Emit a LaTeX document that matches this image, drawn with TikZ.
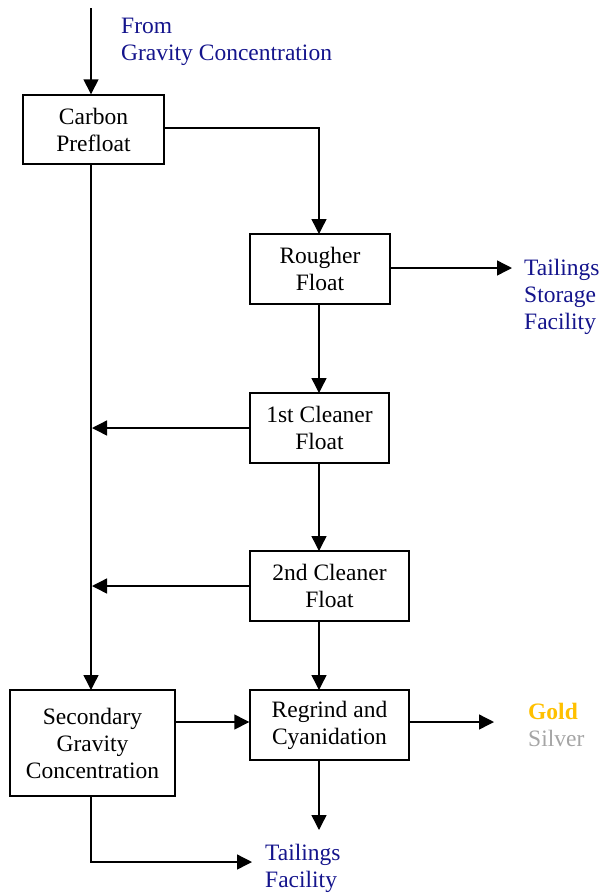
\documentclass[tikz,border=0pt]{standalone}
\usepackage{fontspec}
\setmainfont{Liberation Serif}
\usetikzlibrary{arrows.meta}
\definecolor{navyt}{RGB}{20,20,140}
\definecolor{goldt}{RGB}{255,192,0}
\definecolor{silvert}{RGB}{165,165,165}
\tikzset{
  box/.style={draw, line width=1.4pt, inner sep=0pt, align=center, font=\fontsize{23.5}{27}\selectfont},
  flow/.style={line width=1.4pt, -{Triangle[length=15pt,width=15pt]}},
  plain/.style={line width=1.4pt},
  lbl/.style={inner sep=0pt, anchor=north west, align=left, font=\fontsize{23.5}{27}\selectfont}
}
\begin{document}
\begin{tikzpicture}[x=1pt,y=-1pt]
\useasboundingbox (0,0) rectangle (607,895);
% boxes
\node[box, minimum width=141pt, minimum height=69pt] (carbon) at (93.5,129.5) {Carbon\\Prefloat};
\node[box, minimum width=140pt, minimum height=70pt] (rougher) at (320,269) {Rougher\\Float};
\node[box, minimum width=139pt, minimum height=70pt] (clean1) at (319.5,428) {1st Cleaner\\Float};
\node[box, minimum width=159pt, minimum height=70pt] (clean2) at (329.5,586) {2nd Cleaner\\Float};
\node[box, minimum width=165pt, minimum height=106pt] (sec) at (92.5,743) {Secondary\\Gravity\\Concentration};
\node[box, minimum width=159pt, minimum height=70pt] (regrind) at (329.5,725) {Regrind and\\Cyanidation};
% labels
\node[lbl, text=navyt] (from) at (121,18) {From\\Gravity Concentration};
\node[lbl, text=navyt] (tsf) at (524,259) {Tailings\\Storage\\Facility};
\node[lbl] (gs) at (528,703) {\textcolor{goldt}{\textbf{Gold}}\\\textcolor{silvert}{Silver}};
\node[lbl, text=navyt] (tf) at (265,844) {Tailings\\Facility};
% coordinates
\coordinate (top) at (91,8);
\coordinate (tsfin) at (512,268);
\coordinate (gsin) at (494,722);
\coordinate (tfin) at (252,862);
\coordinate (tfcorner) at (91,862);
\coordinate (regout) at (319,830);
% connectors
\draw[flow] (top) -- (top |- carbon.north);
\draw[flow] (carbon.east |- 0,128) -| (319,234);
\draw[flow] (91,164) -- (91,690);
\draw[flow] (rougher.east |- 0,268) -- (tsfin);
\draw[flow] (319,304) -- (319,393);
\draw[flow] (clean1.west) -- (92,428);
\draw[flow] (319,463) -- (319,551);
\draw[flow] (clean2.west) -- (92,586);
\draw[flow] (319,621) -- (319,690);
\draw[flow] (sec.east |- 0,722) -- (regrind.west |- 0,722);
\draw[flow] (regrind.east |- 0,722) -- (gsin);
\draw[flow] (319,760) -- (regout);
\draw[flow] (91,796) -- (tfcorner) -- (tfin);
\end{tikzpicture}
\end{document}
